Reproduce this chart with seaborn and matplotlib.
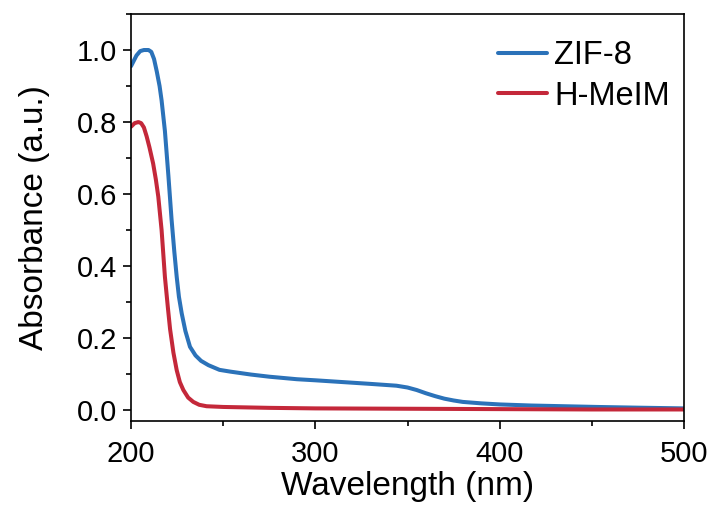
import numpy as np
import pandas as pd
import matplotlib
matplotlib.use("Agg")
import matplotlib.pyplot as plt
from matplotlib.ticker import MultipleLocator, FormatStrFormatter
import seaborn as sns

# UV-Vis absorbance spectra
zif8_wavelength = [200, 201.5, 203, 205, 207, 209.5, 211, 212.5, 214, 215.5, 216.6, 218.4,
                   220.3, 222, 223.5, 224.8, 226, 227.5, 229.5, 232, 235, 238, 242, 248,
                   254, 265, 275, 290, 300, 315, 330, 344, 350, 355, 360, 365, 370, 375,
                   380, 390, 400, 417, 435, 453, 475, 500]
zif8_absorbance = [0.955, 0.97, 0.985, 0.997, 1.0, 1.0, 0.995, 0.975, 0.94, 0.9, 0.86, 0.775,
                   0.65, 0.53, 0.44, 0.37, 0.315, 0.269, 0.22, 0.176, 0.152, 0.137, 0.125, 0.112,
                   0.107, 0.099, 0.093, 0.086, 0.083, 0.078, 0.073, 0.068, 0.063, 0.056, 0.047,
                   0.039, 0.032, 0.027, 0.023, 0.019, 0.016, 0.013, 0.011, 0.009, 0.007, 0.005]

hmeim_wavelength = [200, 202, 204, 205.5, 207, 208.5, 210, 212, 213.5, 214.8, 216.6, 218.4,
                    220, 221.2, 223, 224.8, 226.5, 228.4, 231, 233.8, 237, 241, 250, 275,
                    300, 350, 400, 450, 500]
hmeim_absorbance = [0.787, 0.797, 0.80, 0.797, 0.785, 0.76, 0.73, 0.685, 0.64, 0.593, 0.5, 0.37,
                    0.285, 0.225, 0.16, 0.111, 0.078, 0.056, 0.035, 0.023, 0.015, 0.011, 0.009, 0.0065,
                    0.005, 0.004, 0.003, 0.002, 0.002]

series_names = ["ZIF-8", "H-MeIM"]
series_colors = ["#2b72b9", "#c4283a"]

df = pd.concat([
    pd.DataFrame({"Wavelength": zif8_wavelength, "Absorbance": zif8_absorbance, "Sample": series_names[0]}),
    pd.DataFrame({"Wavelength": hmeim_wavelength, "Absorbance": hmeim_absorbance, "Sample": series_names[1]}),
], ignore_index=True)

sns.set_theme(style="ticks")
plt.rcParams["font.family"] = ["Liberation Sans", "DejaVu Sans"]

fig = plt.figure(figsize=(7.17, 5.09), dpi=100)
ax = fig.add_axes([131 / 717, 1 - 421 / 509, (684 - 131) / 717, (421 - 14) / 509])

sns.lineplot(data=df, x="Wavelength", y="Absorbance", hue="Sample",
             palette=dict(zip(series_names, series_colors)), linewidth=2.9,
             sort=True, estimator=None, ax=ax)
for line in ax.get_lines():
    line.set_solid_joinstyle("round")

ax.set_xlim(200, 500)
ax.set_ylim(-0.03, 1.1)
ax.xaxis.set_major_locator(MultipleLocator(100))
ax.xaxis.set_minor_locator(MultipleLocator(50))
ax.yaxis.set_major_locator(MultipleLocator(0.2))
ax.yaxis.set_minor_locator(MultipleLocator(0.1))
ax.yaxis.set_major_formatter(FormatStrFormatter("%.1f"))

ax.tick_params(which="major", direction="out", length=6, width=1.2, labelsize=21,
               color="black", labelcolor="black")
ax.tick_params(axis="y", which="major", pad=4)
ax.tick_params(axis="x", which="major", pad=8)
ax.tick_params(which="minor", direction="out", length=3.5, width=1.2, color="black")
for sp in ax.spines.values():
    sp.set_visible(True)
    sp.set_linewidth(1.2)
    sp.set_color("black")

ax.set_xlabel("Wavelength (nm)", fontsize=24, labelpad=2, color="black")
ax.set_ylabel("Absorbance (a.u.)", fontsize=24, labelpad=19, color="black")

leg = ax.legend(loc="upper left", bbox_to_anchor=(0.64, 0.968), frameon=False,
                fontsize=23.5, handlelength=1.5, handletextpad=0.22, labelspacing=0.3,
                borderaxespad=0)
for line in leg.get_lines():
    line.set_linewidth(2.9)
for txt in leg.get_texts():
    txt.set_color("black")

fig.savefig("out.png", dpi=100)
